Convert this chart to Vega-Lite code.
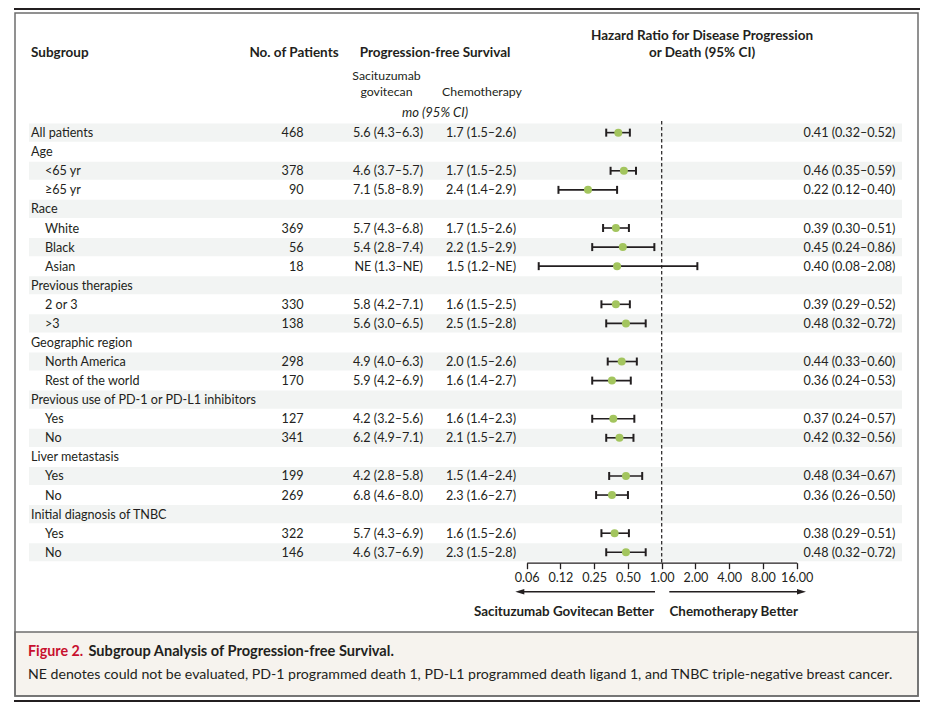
{
  "$schema": "https://vega.github.io/schema/vega-lite/v6.json",
  "width": 933,
  "height": 710,
  "padding": 0,
  "autosize": {"type": "none"},
  "background": "white",
  "config": {
    "view": {"stroke": null},
    "font": "Lato",
    "text": {"font": "Lato", "fontSize": 12.6, "color": "#231f20", "baseline": "middle"}
  },
  "datasets": {
    "one": [{}],
    "rows": [
      {"id": 1, "label": "All patients", "level": 0, "n": 468, "sg": "5.6 (4.3–6.3)", "chemo": "1.7 (1.5–2.6)", "hr": 0.41, "lo": 0.32, "hi": 0.52, "hrText": "0.41 (0.32–0.52)"},
      {"id": 2, "label": "Age", "level": 0},
      {"id": 3, "label": "<65 yr", "level": 1, "n": 378, "sg": "4.6 (3.7–5.7)", "chemo": "1.7 (1.5–2.5)", "hr": 0.46, "lo": 0.35, "hi": 0.59, "hrText": "0.46 (0.35–0.59)"},
      {"id": 4, "label": "≥65 yr", "level": 1, "n": 90, "sg": "7.1 (5.8–8.9)", "chemo": "2.4 (1.4–2.9)", "hr": 0.22, "lo": 0.12, "hi": 0.40, "hrText": "0.22 (0.12–0.40)"},
      {"id": 5, "label": "Race", "level": 0},
      {"id": 6, "label": "White", "level": 1, "n": 369, "sg": "5.7 (4.3–6.8)", "chemo": "1.7 (1.5–2.6)", "hr": 0.39, "lo": 0.30, "hi": 0.51, "hrText": "0.39 (0.30–0.51)"},
      {"id": 7, "label": "Black", "level": 1, "n": 56, "sg": "5.4 (2.8–7.4)", "chemo": "2.2 (1.5–2.9)", "hr": 0.45, "lo": 0.24, "hi": 0.86, "hrText": "0.45 (0.24–0.86)"},
      {"id": 8, "label": "Asian", "level": 1, "n": 18, "sg": "NE (1.3–NE)", "chemo": "1.5 (1.2–NE)", "hr": 0.40, "lo": 0.08, "hi": 2.08, "hrText": "0.40 (0.08–2.08)"},
      {"id": 9, "label": "Previous therapies", "level": 0},
      {"id": 10, "label": "2 or 3", "level": 1, "n": 330, "sg": "5.8 (4.2–7.1)", "chemo": "1.6 (1.5–2.5)", "hr": 0.39, "lo": 0.29, "hi": 0.52, "hrText": "0.39 (0.29–0.52)"},
      {"id": 11, "label": ">3", "level": 1, "n": 138, "sg": "5.6 (3.0–6.5)", "chemo": "2.5 (1.5–2.8)", "hr": 0.48, "lo": 0.32, "hi": 0.72, "hrText": "0.48 (0.32–0.72)"},
      {"id": 12, "label": "Geographic region", "level": 0},
      {"id": 13, "label": "North America", "level": 1, "n": 298, "sg": "4.9 (4.0–6.3)", "chemo": "2.0 (1.5–2.6)", "hr": 0.44, "lo": 0.33, "hi": 0.60, "hrText": "0.44 (0.33–0.60)"},
      {"id": 14, "label": "Rest of the world", "level": 1, "n": 170, "sg": "5.9 (4.2–6.9)", "chemo": "1.6 (1.4–2.7)", "hr": 0.36, "lo": 0.24, "hi": 0.53, "hrText": "0.36 (0.24–0.53)"},
      {"id": 15, "label": "Previous use of PD-1 or PD-L1 inhibitors", "level": 0},
      {"id": 16, "label": "Yes", "level": 1, "n": 127, "sg": "4.2 (3.2–5.6)", "chemo": "1.6 (1.4–2.3)", "hr": 0.37, "lo": 0.24, "hi": 0.57, "hrText": "0.37 (0.24–0.57)"},
      {"id": 17, "label": "No", "level": 1, "n": 341, "sg": "6.2 (4.9–7.1)", "chemo": "2.1 (1.5–2.7)", "hr": 0.42, "lo": 0.32, "hi": 0.56, "hrText": "0.42 (0.32–0.56)"},
      {"id": 18, "label": "Liver metastasis", "level": 0},
      {"id": 19, "label": "Yes", "level": 1, "n": 199, "sg": "4.2 (2.8–5.8)", "chemo": "1.5 (1.4–2.4)", "hr": 0.48, "lo": 0.34, "hi": 0.67, "hrText": "0.48 (0.34–0.67)"},
      {"id": 20, "label": "No", "level": 1, "n": 269, "sg": "6.8 (4.6–8.0)", "chemo": "2.3 (1.6–2.7)", "hr": 0.36, "lo": 0.26, "hi": 0.50, "hrText": "0.36 (0.26–0.50)"},
      {"id": 21, "label": "Initial diagnosis of TNBC", "level": 0},
      {"id": 22, "label": "Yes", "level": 1, "n": 322, "sg": "5.7 (4.3–6.9)", "chemo": "1.6 (1.5–2.6)", "hr": 0.38, "lo": 0.29, "hi": 0.51, "hrText": "0.38 (0.29–0.51)"},
      {"id": 23, "label": "No", "level": 1, "n": 146, "sg": "4.6 (3.7–6.9)", "chemo": "2.3 (1.5–2.8)", "hr": 0.48, "lo": 0.32, "hi": 0.72, "hrText": "0.48 (0.32–0.72)"}
    ]
  },
  "data": {"name": "rows"},
  "resolve": {"scale": {"x": "independent"}},
  "layer": [
    {
      "data": {"name": "one"},
      "mark": {"type": "rect", "fill": "#f6f3ee", "stroke": "#6d6d6d", "strokeWidth": 1.5},
      "encoding": {"x": {"value": 15}, "x2": {"value": 918}, "y": {"value": 632}, "y2": {"value": 696}}
    },
    {
      "data": {"name": "one"},
      "mark": {"type": "rect", "fill": "transparent", "stroke": "#6d6d6d", "strokeWidth": 1.5},
      "encoding": {"x": {"value": 15}, "x2": {"value": 918}, "y": {"value": 13}, "y2": {"value": 696}}
    },
    {
      "data": {"name": "one"},
      "mark": {"type": "rule", "color": "#231f20", "strokeWidth": 2},
      "encoding": {"x": {"value": 14}, "x2": {"value": 920}, "y": {"value": 9}}
    },
    {
      "data": {"name": "one"},
      "mark": {"type": "rule", "color": "#231f20", "strokeWidth": 2},
      "encoding": {"x": {"value": 14}, "x2": {"value": 920}, "y": {"value": 701}}
    },
    {
      "transform": [{"filter": "datum.id % 2 == 1"}],
      "mark": {"type": "rect", "color": "#f2f4f3"},
      "encoding": {
        "x": {"value": 29}, "x2": {"value": 902},
        "y": {"field": "id", "type": "ordinal", "sort": "ascending", "axis": null,
              "scale": {"type": "band", "domain": [1,2,3,4,5,6,7,8,9,10,11,12,13,14,15,16,17,18,19,20,21,22,23], "range": [123.1, 561.8], "paddingInner": 0.05, "paddingOuter": 0.025}}
      }
    },
    {
      "data": {"name": "one"},
      "mark": {"type": "text", "text": "Subgroup", "fontWeight": "bold", "fontSize": 13.5, "align": "left"},
      "encoding": {"x": {"value": 31}, "y": {"value": 52.5}}
    },
    {
      "data": {"name": "one"},
      "mark": {"type": "text", "text": "No. of Patients", "fontWeight": "bold", "fontSize": 13.5, "align": "center"},
      "encoding": {"x": {"value": 294}, "y": {"value": 52.5}}
    },
    {
      "data": {"name": "one"},
      "mark": {"type": "text", "text": "Progression-free Survival", "fontWeight": "bold", "fontSize": 13.5, "align": "center"},
      "encoding": {"x": {"value": 435}, "y": {"value": 52.5}}
    },
    {
      "data": {"name": "one"},
      "mark": {"type": "text", "text": "Hazard Ratio for Disease Progression", "fontWeight": "bold", "fontSize": 13.5, "align": "center"},
      "encoding": {"x": {"value": 702}, "y": {"value": 35.5}}
    },
    {
      "data": {"name": "one"},
      "mark": {"type": "text", "text": "or Death (95% CI)", "fontWeight": "bold", "fontSize": 13.5, "align": "center"},
      "encoding": {"x": {"value": 702}, "y": {"value": 52.5}}
    },
    {
      "data": {"name": "one"},
      "mark": {"type": "text", "text": "Sacituzumab", "fontSize": 12.3, "align": "center"},
      "encoding": {"x": {"value": 386.5}, "y": {"value": 75.5}}
    },
    {
      "data": {"name": "one"},
      "mark": {"type": "text", "text": "govitecan", "fontSize": 12.3, "align": "center"},
      "encoding": {"x": {"value": 386.5}, "y": {"value": 91.5}}
    },
    {
      "data": {"name": "one"},
      "mark": {"type": "text", "text": "Chemotherapy", "fontSize": 12.3, "align": "center"},
      "encoding": {"x": {"value": 482}, "y": {"value": 91.5}}
    },
    {
      "data": {"name": "one"},
      "mark": {"type": "text", "text": "mo (95% CI)", "fontSize": 13, "fontStyle": "italic", "align": "center"},
      "encoding": {"x": {"value": 435}, "y": {"value": 112.5}}
    },
    {
      "mark": {"type": "text", "align": "left", "dy": 0.5},
      "encoding": {
        "x": {"field": "level", "type": "quantitative", "axis": null, "scale": {"domain": [0, 1], "range": [31, 45]}},
        "y": {"field": "id", "type": "ordinal"},
        "text": {"field": "label", "type": "nominal"}
      }
    },
    {
      "transform": [{"filter": "datum.n != null"}],
      "mark": {"type": "text", "align": "right", "dy": 0.5},
      "encoding": {
        "x": {"value": 303.5},
        "y": {"field": "id", "type": "ordinal"},
        "text": {"field": "n", "type": "quantitative", "format": "d"}
      }
    },
    {
      "transform": [{"filter": "datum.sg != null"}],
      "mark": {"type": "text", "align": "right", "dy": 0.5},
      "encoding": {
        "x": {"value": 423},
        "y": {"field": "id", "type": "ordinal"},
        "text": {"field": "sg", "type": "nominal"}
      }
    },
    {
      "transform": [{"filter": "datum.chemo != null"}],
      "mark": {"type": "text", "align": "right", "dy": 0.5},
      "encoding": {
        "x": {"value": 516},
        "y": {"field": "id", "type": "ordinal"},
        "text": {"field": "chemo", "type": "nominal"}
      }
    },
    {
      "transform": [{"filter": "datum.hrText != null"}],
      "mark": {"type": "text", "align": "right", "dy": 0.5},
      "encoding": {
        "x": {"value": 895.5},
        "y": {"field": "id", "type": "ordinal"},
        "text": {"field": "hrText", "type": "nominal"}
      }
    },
    {
      "transform": [{"filter": "datum.hr != null"}],
      "layer": [
        {
          "data": {"name": "one"},
          "mark": {"type": "rule", "color": "#231f20", "strokeWidth": 1.2, "strokeDash": [3.5, 2.5]},
          "encoding": {"x": {"datum": 1}, "y": {"value": 121}, "y2": {"value": 562.5}}
        },
        {
          "mark": {"type": "rule", "color": "#231f20", "strokeWidth": 1.6},
          "encoding": {
            "x": {"field": "lo", "type": "quantitative",
                  "scale": {"type": "log", "base": 2, "domain": [0.0625, 16], "range": [526.7, 796.7]},
                  "axis": {"values": [0.0625, 0.125, 0.25, 0.5, 1, 2, 4, 8, 16],
                           "labelExpr": "datum.value == 0.125 ? '0.12' : format(datum.value, '.2f')",
                           "orient": "bottom", "offset": -147.3, "title": null, "grid": false,
                           "domainColor": "#231f20", "domainWidth": 1.3, "tickColor": "#231f20", "tickWidth": 1.3, "tickSize": 6,
                           "labelColor": "#231f20", "labelFont": "Lato", "labelFontSize": 12.6, "labelPadding": 2.5, "labelFlush": false, "labelOverlap": false}},
            "x2": {"field": "hi"},
            "y": {"field": "id", "type": "ordinal"}
          }
        },
        {
          "mark": {"type": "tick", "orient": "vertical", "color": "#231f20", "size": 8, "thickness": 2, "opacity": 1},
          "encoding": {"x": {"field": "lo", "type": "quantitative"}, "y": {"field": "id", "type": "ordinal"}}
        },
        {
          "mark": {"type": "tick", "orient": "vertical", "color": "#231f20", "size": 8, "thickness": 2, "opacity": 1},
          "encoding": {"x": {"field": "hi", "type": "quantitative"}, "y": {"field": "id", "type": "ordinal"}}
        },
        {
          "mark": {"type": "circle", "color": "#a3c55e", "size": 64, "opacity": 1},
          "encoding": {"x": {"field": "hr", "type": "quantitative"}, "y": {"field": "id", "type": "ordinal"}}
        }
      ]
    },
    {
      "data": {"name": "one"},
      "mark": {"type": "rule", "color": "#231f20", "strokeWidth": 1.4},
      "encoding": {"x": {"value": 522}, "x2": {"value": 655}, "y": {"value": 591.7}}
    },
    {
      "data": {"name": "one"},
      "mark": {"type": "rule", "color": "#231f20", "strokeWidth": 1.4},
      "encoding": {"x": {"value": 669.3}, "x2": {"value": 800}, "y": {"value": 591.7}}
    },
    {
      "data": {"name": "one"},
      "mark": {"type": "point", "shape": "M-1,0L1,-0.6L1,0.6Z", "filled": true, "color": "#231f20", "size": 81, "opacity": 1},
      "encoding": {"x": {"value": 519.8}, "y": {"value": 591.7}}
    },
    {
      "data": {"name": "one"},
      "mark": {"type": "point", "shape": "M1,0L-1,-0.6L-1,0.6Z", "filled": true, "color": "#231f20", "size": 81, "opacity": 1},
      "encoding": {"x": {"value": 801.5}, "y": {"value": 591.7}}
    },
    {
      "data": {"name": "one"},
      "mark": {"type": "text", "text": "Sacituzumab Govitecan Better", "fontWeight": "bold", "fontSize": 13.4, "align": "right"},
      "encoding": {"x": {"value": 654}, "y": {"value": 611.5}}
    },
    {
      "data": {"name": "one"},
      "mark": {"type": "text", "text": "Chemotherapy Better", "fontWeight": "bold", "fontSize": 13.4, "align": "left"},
      "encoding": {"x": {"value": 669.5}, "y": {"value": 611.5}}
    },
    {
      "data": {"name": "one"},
      "mark": {"type": "text", "text": "Figure 2.", "fontWeight": "bold", "fontSize": 14.3, "align": "left", "color": "#c8102e"},
      "encoding": {"x": {"value": 28}, "y": {"value": 651.5}}
    },
    {
      "data": {"name": "one"},
      "mark": {"type": "text", "text": "Subgroup Analysis of Progression-free Survival.", "fontWeight": "bold", "fontSize": 14.6, "align": "left"},
      "encoding": {"x": {"value": 88.5}, "y": {"value": 651.5}}
    },
    {
      "data": {"name": "one"},
      "mark": {"type": "text", "text": "NE denotes could not be evaluated, PD-1 programmed death 1, PD-L1 programmed death ligand 1, and TNBC triple-negative breast cancer.", "fontSize": 14.15, "align": "left"},
      "encoding": {"x": {"value": 28}, "y": {"value": 674.5}}
    }
  ]
}
